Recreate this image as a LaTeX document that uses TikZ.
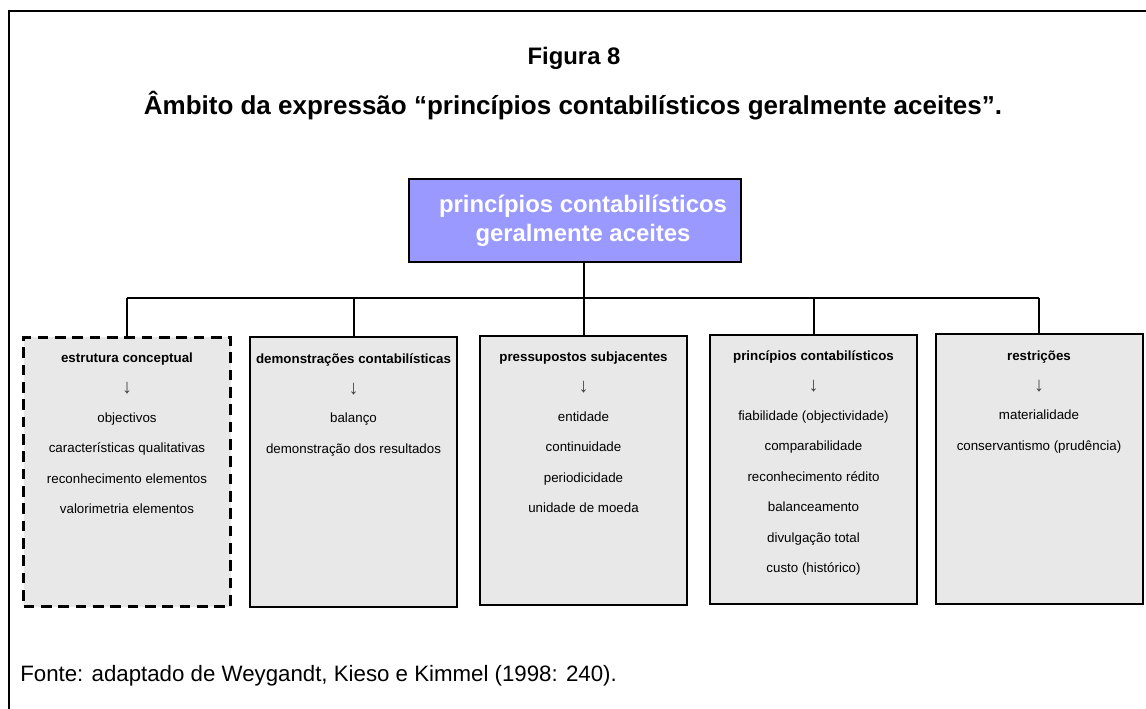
\documentclass[tikz,border=0pt]{standalone}
\usepackage{fontspec}
\setmainfont{Liberation Sans}
\usetikzlibrary{calc}
\definecolor{topfill}{HTML}{9999FF}
\definecolor{boxfill}{HTML}{E8E8E8}

% heading, arrow and list of items of one category box
\newcommand\fillbox[3]{%
  \node[headtext] (#1-h) at ($(#1.north)+(0,27)$) {#2};
  \node[arrowtext] (#1-a) at ($(#1.north)+(0,58)$) {↓};
  \foreach \t [count=\i] in {#3}
    \node[itemtext] (#1-\i) at ($(#1.north)+(0,{56+30.5*\i})$) {\t};
}

\begin{document}
\begin{tikzpicture}[x=0.75pt,y=-0.75pt,
  frame/.style={line width=1.5pt},
  link/.style={line width=1.5pt},
  topbox/.style={draw, line width=1.5pt, fill=topfill, minimum width=249pt,
    minimum height=62.25pt, inner sep=0pt},
  toptext/.style={inner sep=0pt, text=white, align=center,
    font=\fontsize{17.9pt}{21.75pt}\selectfont\bfseries},
  catbox/.style={draw, line width=1.5pt, fill=boxfill, inner sep=0pt,
    minimum width=155.25pt, minimum height=202pt},
  dashbox/.style={catbox, line width=2.25pt, dash pattern=on 8pt off 5pt},
  headtext/.style={anchor=base, inner sep=0pt, font=\fontsize{10pt}{12pt}\selectfont\bfseries},
  itemtext/.style={anchor=base, inner sep=0pt, font=\fontsize{10pt}{12pt}\selectfont},
  arrowtext/.style={anchor=base, inner sep=0pt, text=black!75, font=\fontsize{15pt}{18pt}\selectfont},
  title/.style={anchor=base, inner sep=0pt, font=\fontsize{19.5pt}{24pt}\selectfont\bfseries},
  note/.style={anchor=base west, inner sep=0pt, font=\fontsize{16.7pt}{20pt}\selectfont}]

\useasboundingbox (0,0) rectangle (1146,709);
\fill[white] (0,0) rectangle (1146,709);

% page frame
\coordinate (fr-tr) at (1146,11);
\coordinate (fr-tl) at (9,11);
\coordinate (fr-bl) at (9,709);
\draw[frame] (fr-tr) -- (fr-tl) -- (fr-bl);

% titles
\node[title, font=\fontsize{17.9pt}{22pt}\selectfont\bfseries] (fig) at (574,65) {Figura 8};
\node[title] (ttl) at (573,115) {Âmbito da expressão “princípios contabilísticos geralmente aceites”.};

% root box
\node[topbox] (top) at (575,220.5) {};
\node[toptext] (top-t) at (583,220.5) {princípios contabilísticos\\geralmente aceites};

% category boxes
\node[dashbox] (b1) at (127,472) {};
\node[catbox]  (b2) at (353.5,472) {};
\node[catbox]  (b3) at (583.5,470.5) {};
\node[catbox]  (b4) at (813.5,469.5) {};
\node[catbox]  (b5) at (1039,469) {};

% tree connectors
\coordinate (bar) at (584,298);
\draw[link] (top.south -| bar) -- (bar);
\draw[link] (b1.north |- bar) -- (b5.north |- bar);
\foreach \b in {b1,b2,b3,b4,b5}
  \draw[link] (\b.north |- bar) -- (\b.north);

% box contents
\fillbox{b1}{estrutura conceptual}{objectivos,características qualitativas,reconhecimento elementos,valorimetria elementos}
\fillbox{b2}{demonstrações contabilísticas}{balanço,demonstração dos resultados}
\fillbox{b3}{pressupostos subjacentes}{entidade,continuidade,periodicidade,unidade de moeda}
\fillbox{b4}{princípios contabilísticos}{fiabilidade (objectividade),comparabilidade,reconhecimento rédito,balanceamento,divulgação total,custo (histórico)}
\fillbox{b5}{restrições}{materialidade,conservantismo (prudência)}

% source note
\node[note] (src) at (20,681) {Fonte: adaptado de Weygandt, Kieso e Kimmel (1998: 240).};
\end{tikzpicture}
\end{document}
